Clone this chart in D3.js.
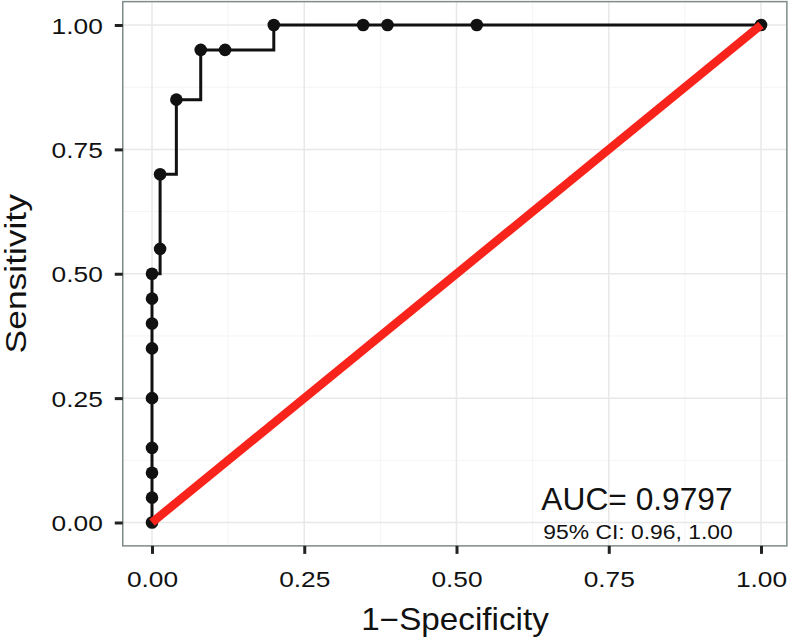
<!DOCTYPE html>
<html>
<head>
<meta charset="utf-8">
<script src="https://cdn.jsdelivr.net/npm/d3@7"></script>
<style>
  body { margin: 0; background: #fff; }
  text { font-family: "Liberation Sans", Arial, Helvetica, sans-serif; }
</style>
</head>
<body>
<div id="chart"></div>
<script>
// ROC curve points (1-specificity, sensitivity)
var fpr = [0, 0, 0, 0, 0, 0, 0, 0, 0, 0.0133, 0.0133, 0.04, 0.08, 0.12, 0.2, 0.3467, 0.3867, 0.5333, 1];
var tpr = [0, 0.05, 0.10, 0.15, 0.25, 0.35, 0.40, 0.45, 0.50, 0.55, 0.70, 0.85, 0.95, 0.95, 1, 1, 1, 1, 1];
var tickValues = [0, 0.25, 0.5, 0.75, 1];
var minorValues = [0.125, 0.375, 0.625, 0.875];
var aucLabel = "AUC= 0.9797";
var ciLabel = "95% CI: 0.96, 1.00";

var width = 794, height = 641;

var svg = d3.select("#chart").append("svg")
    .attr("width", width)
    .attr("height", height);

var x = d3.scaleLinear().domain([0, 1]).range([152, 761]);
var y = d3.scaleLinear().domain([0, 1]).range([522.5, 25]);

var px0 = x(-0.048), px1 = x(1.0425);
var py0 = y(-0.047), py1 = y(1.047);

var points = fpr.map(function (d, i) { return [d, tpr[i]]; });

// the original font runs wider than Liberation Sans, so stretch along the baseline
function putText(tx, ty, size, sx, rot) {
  return svg.append("text")
      .attr("transform", "translate(" + tx + "," + ty + ")" + (rot ? " rotate(" + rot + ")" : "") + " scale(" + sx + ",1)")
      .attr("text-anchor", "middle")
      .attr("font-size", size)
      .attr("fill", "#111");
}

// panel background
svg.append("rect")
    .attr("x", px0).attr("y", py1)
    .attr("width", px1 - px0).attr("height", py0 - py1)
    .attr("fill", "#fff");

// grid
var grid = svg.append("g");
minorValues.forEach(function (v) {
  grid.append("line").attr("x1", x(v)).attr("x2", x(v)).attr("y1", py1).attr("y2", py0)
      .attr("stroke", "#f4f4f4").attr("stroke-width", 1);
  grid.append("line").attr("x1", px0).attr("x2", px1).attr("y1", y(v)).attr("y2", y(v))
      .attr("stroke", "#f4f4f4").attr("stroke-width", 1);
});
tickValues.forEach(function (v) {
  grid.append("line").attr("x1", x(v)).attr("x2", x(v)).attr("y1", py1).attr("y2", py0)
      .attr("stroke", "#e8e8e8").attr("stroke-width", 1.5);
  grid.append("line").attr("x1", px0).attr("x2", px1).attr("y1", y(v)).attr("y2", y(v))
      .attr("stroke", "#e8e8e8").attr("stroke-width", 1.5);
});

// step line
var step = d3.line()
    .x(function (d) { return x(d[0]); })
    .y(function (d) { return y(d[1]); })
    .curve(d3.curveStepAfter);

svg.append("path")
    .datum(points)
    .attr("d", step)
    .attr("fill", "none")
    .attr("stroke", "#111")
    .attr("stroke-width", 3);

svg.append("g").selectAll("circle")
    .data(points)
    .enter()
    .append("circle")
    .attr("cx", function (d) { return x(d[0]); })
    .attr("cy", function (d) { return y(d[1]); })
    .attr("r", 6.3)
    .attr("fill", "#111");

// chance diagonal
svg.append("line")
    .attr("x1", x(0)).attr("y1", y(0))
    .attr("x2", x(1)).attr("y2", y(1))
    .attr("stroke", "#f8231a")
    .attr("stroke-width", 8.5);

// annotation
putText(637, 510, 30.5, 1.04).text(aucLabel);
putText(638, 539, 21, 1.09).text(ciLabel);

// panel border
svg.append("rect")
    .attr("x", px0).attr("y", py1)
    .attr("width", px1 - px0).attr("height", py0 - py1)
    .attr("fill", "none")
    .attr("stroke", "#7f8a8a")
    .attr("stroke-width", 1.5);

// axes
var xAxis = svg.append("g")
    .attr("transform", "translate(0," + py0 + ")")
    .call(d3.axisBottom(x).tickValues(tickValues).tickFormat(d3.format(".2f")).tickSize(8).tickPadding(17));
var yAxis = svg.append("g")
    .attr("transform", "translate(" + px0 + ",0)")
    .call(d3.axisLeft(y).tickValues(tickValues).tickFormat(d3.format(".2f")).tickSize(8).tickPadding(12));

[xAxis, yAxis].forEach(function (a) {
  a.select(".domain").remove();
  a.selectAll(".tick line").attr("stroke", "#222").attr("stroke-width", 3);
  a.selectAll(".tick text")
      .attr("font-size", 22.5)
      .attr("fill", "#111")
      .style("font-family", "'Liberation Sans', Arial, sans-serif");
});
xAxis.selectAll(".tick text").attr("transform", "scale(1.17,1)");
yAxis.selectAll(".tick text")
    .attr("x", 0)
    .attr("dy", "0.36em")
    .attr("transform", "translate(-20,0) scale(1.17,1)");

// axis titles
putText(455, 630, 30.5, 1.09, 0).text("1\u2212Specificity");
putText(25.5, (py0 + py1) / 2, 30, 1.18, -90).text("Sensitivity");
</script>
</body>
</html>
